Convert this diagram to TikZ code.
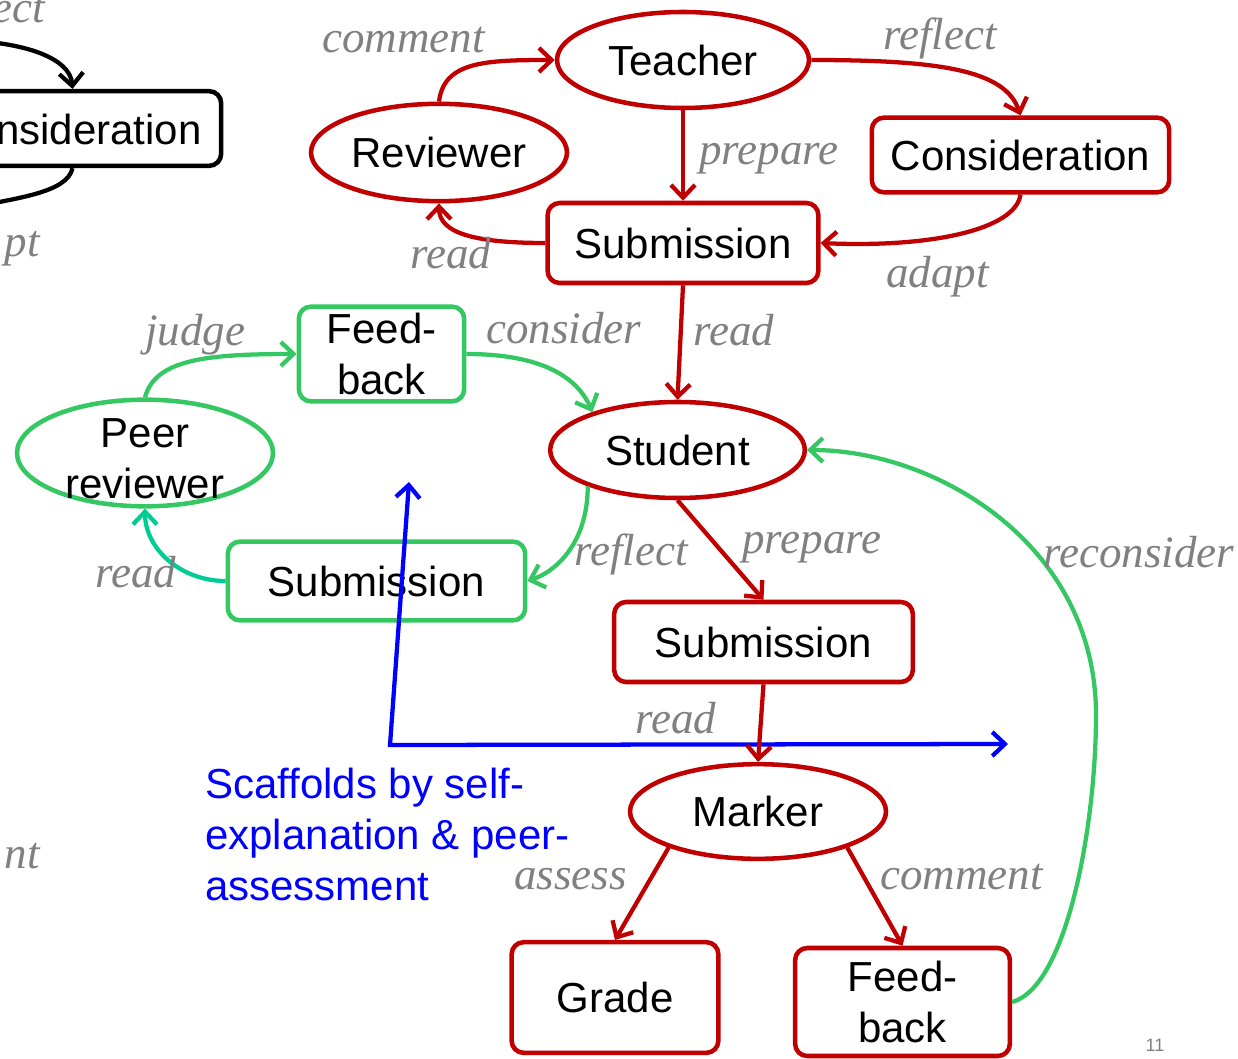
\documentclass[tikz,border=0pt]{standalone}
\usepackage{fontspec}
\setmainfont{Liberation Sans}
\newfontfamily\lblfont{Liberation Serif}
\usetikzlibrary{shapes.geometric,arrows.meta}
\definecolor{dred}{RGB}{192,0,0}
\definecolor{lgreen}{RGB}{52,199,98}
\definecolor{tealg}{RGB}{0,204,150}
\definecolor{lgray}{RGB}{128,128,128}
\begin{document}
\begin{tikzpicture}[x=0.75pt,y=-0.75pt,
  nfont/.style={font=\fontsize{31.5}{38.25}\selectfont},
  ell/.style={ellipse, line width=3.4pt, inner sep=0pt, nfont},
  box/.style={rectangle, rounded corners=9pt, line width=3.4pt, inner sep=0pt, nfont, align=center},
  redell/.style={ell, draw=dred},
  redbox/.style={box, draw=dred},
  greenell/.style={ell, draw=lgreen},
  greenbox/.style={box, draw=lgreen},
  blackbox/.style={box, draw=black},
  lbl/.style={font=\lblfont\itshape\fontsize{33.75}{40}\selectfont, text=lgray, inner sep=0pt, anchor=base west},
  lble/.style={lbl, anchor=base east},
  barb/.tip={Straight Barb[length=9.5pt,width=18pt]},
  tip/.style={-barb},
  redarr/.style={draw=dred, line width=3.2pt, tip},
  greenarr/.style={draw=lgreen, line width=3.2pt, tip},
  tealarr/.style={draw=tealg, line width=3.2pt, tip},
  blackarr/.style={draw=black, line width=3.2pt, tip},
  blackline/.style={draw=black, line width=3.2pt},
  bluearr/.style={draw=blue, line width=3.2pt, barb-barb}
]
\useasboundingbox (0,0) rectangle (1238,1059);
\clip (0,0) rectangle (1238,1059);

% ---- cut-off black part on the left
\node[blackbox, minimum width=223pt, minimum height=56pt] (oldcons) at (72.5,128.5) {};
\node[nfont, inner sep=0pt, anchor=base east] (oldtxt) at (202,145) {nsideration};
\coordinate (oldT) at (-40,40);
\coordinate (oldB) at (-30,208);
\draw[blackarr] (oldT) .. controls (25,42) and (70,58) .. (oldcons.north);
\draw[blackline] (oldcons.south) .. controls +(-5,25) and +(45,-10) .. (oldB);
\node[lble] (l0a) at (45,23) {ect};
\node[lble] (l0b) at (40,257) {pt};
\node[lble] (l0c) at (40,868) {nt};

% ---- red nodes
\node[redell, minimum width=189pt, minimum height=72pt] (teacher) at (683,60) {Teacher};
\node[redell, minimum width=192pt, minimum height=73pt] (reviewer) at (439,152.5) {Reviewer};
\node[redbox, minimum width=223pt, minimum height=56pt] (consid) at (1020.5,155) {Consideration};
\node[redbox, minimum width=203pt, minimum height=60pt] (sub1) at (683,243) {Submission};
\node[redell, minimum width=191pt, minimum height=72pt] (student) at (677.5,450) {Student};
\node[redbox, minimum width=224pt, minimum height=60pt] (sub2) at (763.5,642) {Submission};
\node[redell, minimum width=192pt, minimum height=71pt] (marker) at (758,811.5) {Marker};
\node[redbox, minimum width=155pt, minimum height=83pt] (grade) at (615,997.5) {Grade};
\node[redbox, minimum width=161pt, minimum height=81pt] (fb2) at (902.5,1002) {Feed-\\back};

% ---- green nodes
\node[greenbox, minimum width=124pt, minimum height=71pt] (fb1) at (381.5,354) {Feed-\\back};
\node[greenell, minimum width=192pt, minimum height=80pt,
      label={[nfont, align=center, inner sep=0pt, yshift=-4pt]center:{Peer\\reviewer}}] (peer) at (145,453) {};
\node[greenbox, minimum width=223pt, minimum height=59pt] (subg) at (376.5,581) {Submission};

% ---- red connectors
\draw[redarr] (reviewer.north) .. controls +(5,-40) and +(-70,0) .. (teacher.west);
\draw[redarr] (teacher.east) .. controls +(130,0) and +(-15,-45) .. (consid.north);
\draw[redarr] (teacher.south) -- (sub1.north);
\draw[redarr] (consid.south) .. controls +(-5,35) and +(110,5) .. (sub1.east);
\draw[redarr] (sub1.west) .. controls +(-70,0) and +(0,30) .. (reviewer.south);
\draw[redarr] (sub1.south) -- (student.north);
\draw[redarr] (student.south) -- (sub2.north);
\draw[redarr] (marker.202) -- (grade.north);
\draw[redarr] (marker.338) -- (fb2.north);

% ---- green connectors
\draw[greenarr] (peer.north) .. controls +(10,-38) and +(-90,0) .. (fb1.west);
\draw[greenarr] (fb1.east) .. controls +(75,0) and +(-15,-35) .. (student.156);
\draw[greenarr] (student.202) .. controls +(0,55) and +(30,-10) .. (subg.east);
\draw[tealarr] (subg.west) .. controls +(-45,0) and +(0,40) .. (peer.south);
\coordinate (rc) at (1096,715);
\draw[greenarr] (fb2.east) .. controls +(55,-15) and +(0,110) .. (rc)
   .. controls +(0,-170) and +(130,0) .. (student.east);

% ---- blue scaffold arrow
\coordinate (bt) at (409,482);
\coordinate (bc) at (390,745);
\coordinate (br) at (1008,744);
\draw[bluearr] (bt) -- (bc) -- (br);
\draw[redarr] (sub2.south) -- (marker.north);
\node[nfont, text=blue, align=left, inner sep=0pt, anchor=north west] (scaf) at (205,768)
  {Scaffolds by self-\\explanation \& peer-\\assessment};

% ---- labels
\node[lbl] (lcomment) at (322,53) {comment};
\node[lbl] (lreflect) at (883,50) {reflect};
\node[lbl] (lprep1) at (699,165) {prepare};
\node[lbl] (ladapt) at (886,287) {adapt};
\node[lbl] (lread1) at (410,268) {read};
\node[lbl] (ljudge) at (145,345) {judge};
\node[lbl] (lconsider) at (486,343) {consider};
\node[lbl] (lread2) at (693,345) {read};
\node[lbl] (lreflect2) at (574,565) {reflect};
\node[lbl] (lprep2) at (742,553) {prepare};
\node[lbl] (lreconsider) at (1043,567) {reconsider};
\node[lbl] (lread3) at (95,587) {read};
\node[lbl] (lread4) at (635,733) {read};
\node[lbl] (lassess) at (514,889) {assess};
\node[lbl] (lcomment2) at (880,889) {comment};
\node[font=\fontsize{13.5}{16}\selectfont, text=lgray, inner sep=0pt, anchor=base] (pnum) at (1155,1051) {11};
\end{tikzpicture}
\end{document}
